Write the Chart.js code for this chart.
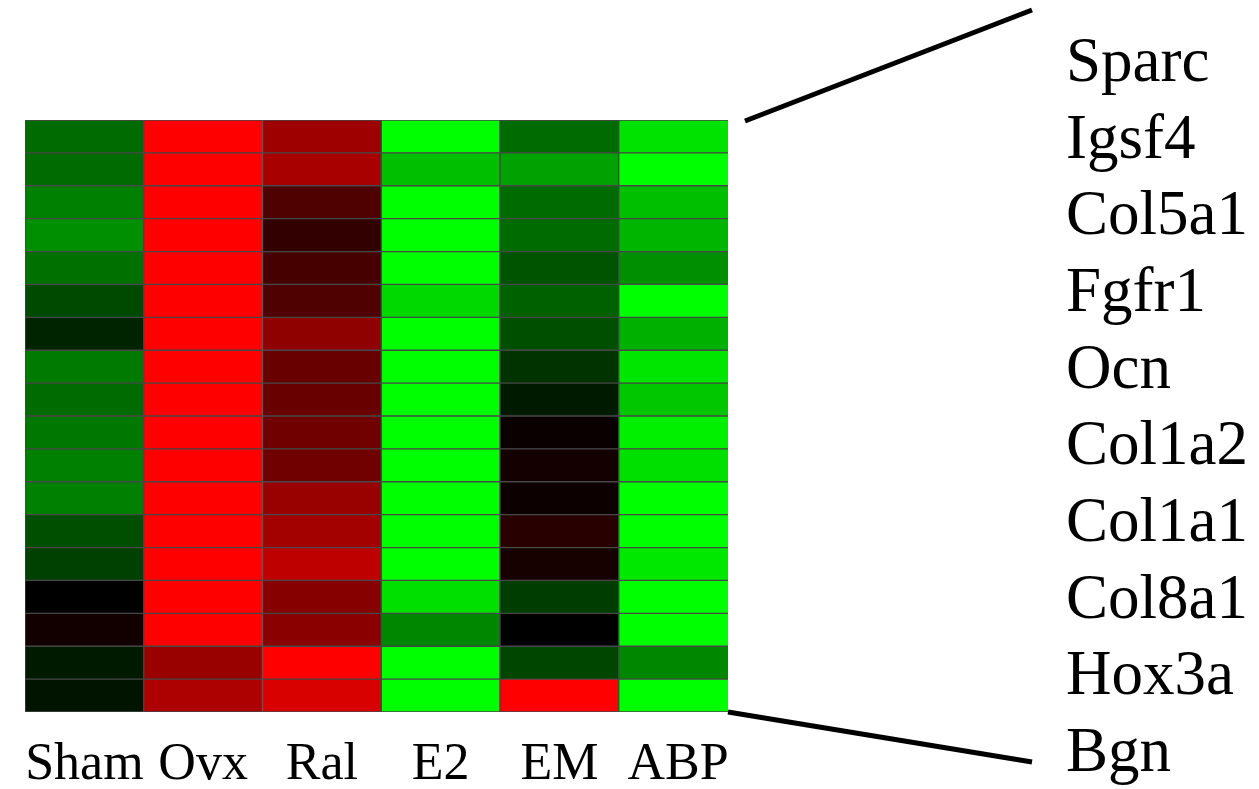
<!DOCTYPE html>
<html>
<head>
<meta charset="utf-8">
<title>Heatmap</title>
<script src="https://cdn.jsdelivr.net/npm/chart.js@4.4.1/dist/chart.umd.min.js"></script>
<style>
    html, body { margin: 0; padding: 0; background: #fff; }
    #wrap { width: 1259px; height: 789px; }
</style>
</head>
<body>
<div id="wrap"><canvas id="heatmap"></canvas></div>
<script>
// Grupos (colunas) e genes anotados à direita
const groups = ['Sham', 'Ovx', 'Ral', 'E2', 'EM', 'ABP'];
const genes = ['Sparc', 'Igsf4', 'Col5a1', 'Fgfr1', 'Ocn', 'Col1a2', 'Col1a1', 'Col8a1', 'Hox3a', 'Bgn'];

// Valores por coluna, de cima para baixo (positivo = vermelho, negativo = verde)
const sham = [-0.42, -0.42, -0.50, -0.56, -0.44, -0.29, -0.14, -0.48, -0.42, -0.47, -0.50, -0.50, -0.31, -0.25, 0.00, 0.07, -0.10, -0.08];
const ovx  = [1.00, 1.00, 1.00, 1.00, 1.00, 1.00, 1.00, 1.00, 1.00, 1.00, 1.00, 1.00, 1.00, 1.00, 1.00, 1.00, 0.60, 0.68];
const ral  = [0.62, 0.66, 0.31, 0.20, 0.28, 0.31, 0.56, 0.41, 0.41, 0.44, 0.44, 0.60, 0.64, 0.75, 0.53, 0.54, 1.00, 0.85];
const e2   = [-1.00, -0.75, -1.00, -1.00, -1.00, -0.85, -1.00, -1.00, -1.00, -1.00, -1.00, -1.00, -1.00, -1.00, -0.88, -0.53, -1.00, -1.00];
const em   = [-0.42, -0.63, -0.42, -0.42, -0.33, -0.38, -0.31, -0.20, -0.10, 0.04, 0.08, 0.05, 0.16, 0.09, -0.24, 0.00, -0.27, 1.00];
const abp  = [-0.89, -1.00, -0.75, -0.71, -0.56, -1.00, -0.69, -0.90, -0.78, -0.94, -0.88, -1.00, -1.00, -0.91, -1.00, -1.00, -0.53, -1.00];

const columns = [sham, ovx, ral, e2, em, abp];

// Converte valor em cor vermelho/verde
function colorFor(v) {
    const c = Math.round(Math.abs(v) * 255);
    return v >= 0 ? `rgb(${c},0,0)` : `rgb(0,${c},0)`;
}

// Linhas de ligação e nomes dos genes
const geneLabels = {
    id: 'geneLabels',
    afterDraw(chart) {
        const { ctx, chartArea } = chart;
        ctx.save();
        ctx.strokeStyle = '#000';
        ctx.lineWidth = 5;
        ctx.beginPath();
        ctx.moveTo(chartArea.right + 17, chartArea.top + 1);
        ctx.lineTo(1032, 10);
        ctx.moveTo(chartArea.right, chartArea.bottom);
        ctx.lineTo(1032, 762);
        ctx.stroke();

        ctx.fillStyle = '#000';
        ctx.font = '63px "Liberation Serif"';
        ctx.textAlign = 'left';
        ctx.textBaseline = 'alphabetic';
        const first = 81, last = 771;
        const step = (last - first) / (genes.length - 1);
        genes.forEach((g, i) => ctx.fillText(g, 1066, first + i * step));
        ctx.restore();
    }
};

new Chart(document.getElementById('heatmap').getContext('2d'), {
    type: 'bar',
    data: {
        datasets: columns.map((vals, c) => ({
            label: groups[c],
            data: vals.map((v, r) => ({ x: c, y: [r, r + 1] })),
            backgroundColor: vals.map(colorFor),
            borderColor: '#474747',
            borderWidth: 1,
            borderSkipped: false,
            barPercentage: 1,
            categoryPercentage: 1,
            clip: 0
        }))
    },
    options: {
        responsive: true,
        maintainAspectRatio: false,
        animation: false,
        layout: { padding: { left: 25, top: 120, right: 531, bottom: 0 } },
        plugins: { legend: { display: false }, tooltip: { enabled: false } },
        scales: {
            x: {
                type: 'linear',
                stacked: true,
                offset: false,
                min: -0.5,
                max: 5.42,
                grid: { display: false },
                border: { display: false },
                afterBuildTicks: (axis) => { axis.ticks = groups.map((g, i) => ({ value: i })); },
                afterFit: (axis) => { axis.height = 77; },
                ticks: {
                    padding: 14,
                    autoSkip: false,
                    maxRotation: 0,
                    color: '#000',
                    font: { family: '"Liberation Serif"', size: 52 },
                    callback: (v) => groups[v] ?? ''
                }
            },
            y: {
                type: 'linear',
                min: 0,
                max: 18,
                reverse: true,
                display: false
            }
        }
    },
    plugins: [geneLabels]
});
</script>
</body>
</html>
